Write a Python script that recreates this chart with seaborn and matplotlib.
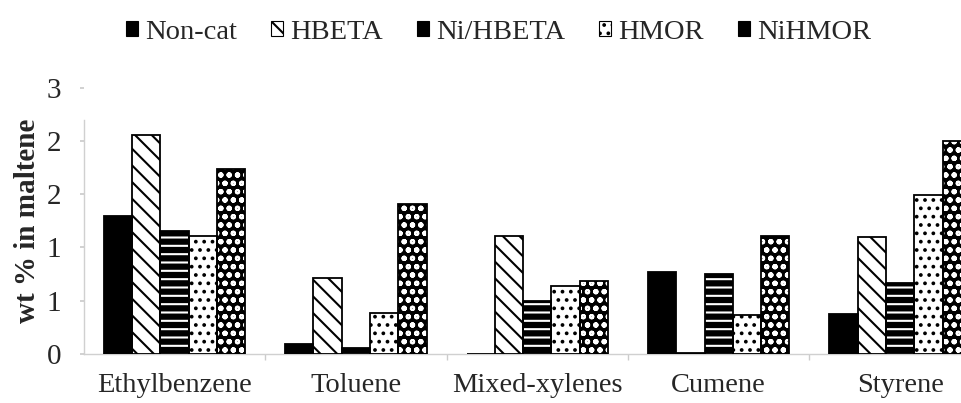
import matplotlib
matplotlib.use("Agg")
import matplotlib.pyplot as plt
from matplotlib.patches import Rectangle
import seaborn as sns
import pandas as pd

compounds = ["Ethylbenzene", "Toluene", "Mixed-xylenes", "Cumene", "Styrene"]
catalysts = ["Non-cat", "HBETA", "Ni/HBETA", "HMOR", "NiHMOR"]
non_cat = [1.56, 0.11, 0.0, 0.92, 0.45]
hbeta = [2.47, 0.86, 1.33, 0.01, 1.32]
ni_hbeta = [1.38, 0.07, 0.60, 0.90, 0.80]
hmor = [1.33, 0.46, 0.77, 0.44, 1.79]
nihmor = [2.08, 1.69, 0.82, 1.33, 2.40]
ytick_values = [0, 0.6, 1.2, 1.8, 2.4, 3.0]
ytick_labels = ["0", "1", "1", "2", "2", "3"]

series = [non_cat, hbeta, ni_hbeta, hmor, nihmor]
df = pd.DataFrame(
    [(c, k, v) for k, vals in zip(catalysts, series) for c, v in zip(compounds, vals)],
    columns=["compound", "catalyst", "value"],
)

sns.set_theme(style="white")
plt.rcParams["font.family"] = ["Liberation Serif", "DejaVu Serif"]
plt.rcParams["hatch.linewidth"] = 1.5

# face colour, hatch pattern, hatch colour for each catalyst
styles = {
    "Non-cat": ("black", "", "black"),
    "HBETA": ("white", "\\\\", "black"),
    "Ni/HBETA": ("black", "--", "white"),
    "HMOR": ("white", "..", "black"),
    "NiHMOR": ("black", "oo", "white"),
}

fig = plt.figure(figsize=(9.62, 4.03), dpi=100)
ax = fig.add_axes([0.087, 0.122, 0.943, 0.66])

sns.barplot(data=df, x="compound", y="value", hue="catalyst",
            order=compounds, hue_order=catalysts, width=0.78,
            errorbar=None, ax=ax, legend=False, saturation=1)

n = len(compounds)
handles = []
for i, cat in enumerate(catalysts):
    face, hatch, hcol = styles[cat]
    for p in ax.patches[i * n:(i + 1) * n]:
        p.set_facecolor(face)
        p.set_hatch(hatch)
        p.set_edgecolor(hcol)
        p.set_linewidth(0)
        ax.add_patch(Rectangle((p.get_x(), p.get_y()), p.get_width(), p.get_height(),
                               fill=False, edgecolor="black", linewidth=1.3, zorder=3))
    handles.append(Rectangle((0, 0), 1, 1, facecolor=face, hatch=hatch,
                             edgecolor="black", linewidth=0.8, label=cat))

ax.set_xlim(-0.5, n - 0.5)
ax.set_ylim(0, 3)
ax.set_yticks(ytick_values)
ax.set_yticklabels(ytick_labels)
ax.set_xlabel("")
ax.set_ylabel("wt % in maltene", fontsize=21, fontweight="bold", labelpad=4)
ax.tick_params(axis="y", labelsize=21, length=3, color="#cccccc", pad=13, left=True)
ax.tick_params(axis="x", which="major", labelsize=20.5, length=0, pad=14)
ax.set_xticks([i + 0.5 for i in range(n - 1)], minor=True)
ax.tick_params(axis="x", which="minor", length=4, color="#cccccc", bottom=True)

for s in ["top", "right"]:
    ax.spines[s].set_visible(False)
for s in ["left", "bottom"]:
    ax.spines[s].set_color("#d0d0d0")
    ax.spines[s].set_linewidth(1.0)
ax.spines["left"].set_bounds(0, 2.64)

fig.legend(handles=handles, loc="upper center", bbox_to_anchor=(0.518, 1.015),
           ncol=5, frameon=False, fontsize=20.5, handlelength=0.42, handleheight=0.42,
           handletextpad=0.25, columnspacing=1.2)

fig.savefig("out.png", dpi=100)
